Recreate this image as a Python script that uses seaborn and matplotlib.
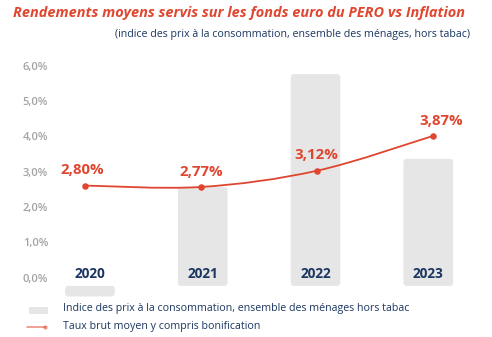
import numpy as np
import pandas as pd
import matplotlib
matplotlib.use("Agg")
import matplotlib.pyplot as plt
import seaborn as sns
from matplotlib.path import Path
from matplotlib.patches import PathPatch, Rectangle, FancyBboxPatch
from matplotlib.lines import Line2D
from matplotlib.transforms import ScaledTranslation

# --- data ---
years = ["2020", "2021", "2022", "2023"]
inflation = [-0.3, 2.8, 6.0, 3.6]          # consumer price index, % (bars)
taux = [2.80, 2.77, 3.12, 3.87]            # average gross rate, % (line)
taux_labels = ["2,80%", "2,77%", "3,12%", "3,87%"]
ytick_vals = [0, 1, 2, 3, 4, 5, 6]

title = "Rendements moyens servis sur les fonds euro du PERO vs Inflation"
subtitle = "(indice des prix à la consommation, ensemble des ménages, hors tabac)"
legend_bar = "Indice des prix à la consommation, ensemble des ménages hors tabac"
legend_line = "Taux brut moyen y compris bonification"

RED = "#e0462f"
NAVY = "#1b3660"
GREY_BAR = "#e6e6e6"
GREY_TXT = "#a3a3a3"

sns.set_theme(style="white")
plt.rcParams["font.family"] = ["Open Sans", "DejaVu Sans"]

W, H = 492, 337
fig = plt.figure(figsize=(W / 100, H / 100), dpi=100)
fig.patch.set_facecolor("white")

def fx(px):
    return px / W

def fy(py):
    return 1 - py / H

left, right, top, bottom = 55, 470, 60, 300
pos = [fx(left), fy(bottom), fx(right) - fx(left), fy(top) - fy(bottom)]

# --- bars ---
ax = fig.add_axes(pos)
df_bar = pd.DataFrame({"year": years, "value": inflation})
sns.barplot(data=df_bar, x="year", y="value", color=GREY_BAR, saturation=1,
            width=0.44, ax=ax)
ax.set_xlim(-0.31, 3.37)
ax.set_ylim(-0.4, 6.4)

# give the bars slightly rounded corners
x_per_px = (3.37 + 0.31) / (right - left)
y_per_px = (6.4 + 0.4) / (bottom - top)
radius = 3 * x_per_px
for bar in list(ax.patches):
    x0, y0 = bar.get_x(), bar.get_y()
    w, h = bar.get_width(), bar.get_height()
    yb, hh = (y0, h) if h >= 0 else (y0 + h, -h)
    rounded = FancyBboxPatch((x0, yb), w, hh,
                             boxstyle=f"round,pad=0,rounding_size={radius}",
                             mutation_aspect=y_per_px / x_per_px,
                             facecolor=GREY_BAR, edgecolor="none", zorder=bar.get_zorder())
    bar.remove()
    ax.add_patch(rounded)

for s in ax.spines.values():
    s.set_visible(False)
ax.set_xlabel("")
ax.set_ylabel("")
ax.set_xticks([])
ax.set_yticks(ytick_vals)
ax.set_yticklabels([f"{v:.1f}".replace(".", ",") + "%" for v in ytick_vals],
                   color=GREY_TXT, fontsize=8.0, fontweight="semibold")
ax.tick_params(axis="y", length=0, pad=5)
shift = ScaledTranslation(0, 8.3 / 100, fig.dpi_scale_trans)
for lab in ax.get_yticklabels():
    lab.set_transform(lab.get_transform() + shift)

# year labels sitting just above the baseline
for i, yr in enumerate(years):
    ax.text(i, 0, yr, ha="center", va="bottom", color=NAVY, fontsize=9.8,
            fontweight="bold",
            transform=ax.transData + ScaledTranslation(0, 5 / 100, fig.dpi_scale_trans))

# --- line on its own scale ---
ax2 = fig.add_axes(pos)
ax2.patch.set_visible(False)
ax2.set_xlim(-0.259, 3.319)
ax2.set_ylim(0.334, 5.506)
ax2.axis("off")

xs = np.arange(len(taux), dtype=float)
pts = np.column_stack([xs, taux])
# smooth Catmull-Rom curve through the points, as cubic Bezier segments
ext = np.vstack([pts[0], pts, pts[-1]])
verts = [tuple(pts[0])]
codes = [Path.MOVETO]
for i in range(len(pts) - 1):
    p0, p1, p2, p3 = ext[i], ext[i + 1], ext[i + 2], ext[i + 3]
    c1 = p1 + (p2 - p0) / 6
    c2 = p2 - (p3 - p1) / 6
    verts += [tuple(c1), tuple(c2), tuple(p2)]
    codes += [Path.CURVE4] * 3
ax2.add_patch(PathPatch(Path(verts, codes), fill=False, edgecolor=RED, lw=1.3))
sns.scatterplot(x=xs, y=taux, color=RED, s=22, edgecolor=RED, linewidth=0,
                ax=ax2, zorder=5, legend=False)
ax2.axis("off")
label_dx = [-3, 0, -1, 8]
for i, (v, t) in enumerate(zip(taux, taux_labels)):
    ax2.annotate(t, (i, v), xytext=(label_dx[i] * 0.72, 11), textcoords="offset points",
                 ha="center", va="center", color=RED, fontsize=10.8, fontweight="bold")

# --- titles ---
fig.text(fx(13), fy(13.5), title, ha="left", va="center", color=RED,
         fontsize=10.45, fontweight="bold", fontstyle="italic")
fig.text(fx(470), fy(35), subtitle, ha="right", va="center", color=NAVY,
         fontsize=7.7)

# --- legend ---
fig.add_artist(Rectangle((fx(29), fy(313.5)), fx(48) - fx(29), fy(306.5) - fy(313.5),
                         transform=fig.transFigure, facecolor=GREY_BAR, edgecolor="none"))
fig.text(fx(63), fy(308.5), legend_bar, ha="left", va="center", color=NAVY, fontsize=7.7)
fig.add_artist(Line2D([fx(27), fx(45)], [fy(326.5), fy(326.5)], transform=fig.transFigure,
                      color=RED, alpha=0.6, lw=1.2))
fig.add_artist(Line2D([fx(45)], [fy(326.5)], transform=fig.transFigure, color=RED,
                      alpha=0.6, marker="o", markersize=3, markeredgewidth=0))
fig.text(fx(63), fy(326.5), legend_line, ha="left", va="center", color=NAVY, fontsize=7.7)

fig.savefig("out.png", dpi=100, facecolor="white")
